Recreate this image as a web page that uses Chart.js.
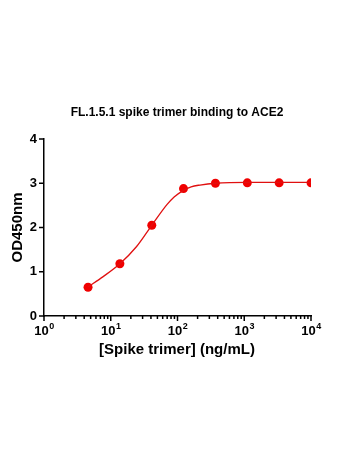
<!DOCTYPE html>
<html>
<head>
<meta charset="utf-8">
<script src="https://cdn.jsdelivr.net/npm/chart.js@4"></script>
<style>
  html, body { margin: 0; padding: 0; background: #fff; }
  #wrap { width: 350px; height: 467px; position: relative; }
</style>
</head>
<body>
<div id="wrap"><canvas id="bindingChart"></canvas></div>
<script>
"use strict";

// measured points (3-fold dilution of spike trimer)
const concentrations = [4.57, 13.7, 41.2, 123, 370, 1111, 3333, 10000];
const odValues = [0.65, 1.18, 2.05, 2.88, 3.0, 3.01, 3.01, 3.01];

// fitted curve
const fitX = [4.57, 7.7, 13.7, 24.4, 41.2, 68.9, 89, 123, 160, 217, 370, 1111, 3333, 10000];
const fitY = [0.66, 0.89, 1.18, 1.57, 2.05, 2.51, 2.69, 2.84, 2.92, 2.96, 3.0, 3.02, 3.02, 3.02];

const xTickPowers = [0, 1, 2, 3, 4];
const yTicks = [0, 1, 2, 3, 4];

const chartTitle = "FL.1.5.1 spike trimer binding to ACE2";
const xTitle = "[Spike trimer] (ng/mL)";
const yTitle = "OD450nm";

const red = "#f00000";
const font = "'Liberation Sans', Arial, sans-serif";

// tick marks, labels and titles drawn by hand so the log labels get superscripts
const axisDecor = {
  id: "axisDecor",
  afterDraw(chart) {
    const ctx = chart.ctx;
    const x = chart.scales.x;
    const y = chart.scales.y;
    const area = chart.chartArea;
    ctx.save();
    ctx.strokeStyle = "#000";
    ctx.fillStyle = "#000";
    ctx.lineWidth = 1.5;

    // x ticks, major and minor
    xTickPowers.forEach((p, i) => {
      const px = x.getPixelForValue(Math.pow(10, p));
      ctx.beginPath();
      ctx.moveTo(px, area.bottom);
      ctx.lineTo(px, area.bottom + 5);
      ctx.stroke();
      if (i < xTickPowers.length - 1) {
        for (let m = 2; m <= 9; m++) {
          const mx = x.getPixelForValue(m * Math.pow(10, p));
          ctx.beginPath();
          ctx.moveTo(mx, area.bottom);
          ctx.lineTo(mx, area.bottom + 3);
          ctx.stroke();
        }
      }
      ctx.font = "bold 13px " + font;
      const base = "10";
      const sup = String(p);
      const w1 = ctx.measureText(base).width;
      ctx.font = "bold 9px " + font;
      const w2 = ctx.measureText(sup).width;
      const left = px - (w1 + w2) / 2;
      ctx.textAlign = "left";
      ctx.textBaseline = "alphabetic";
      ctx.font = "bold 13px " + font;
      ctx.fillText(base, left, area.bottom + 19);
      ctx.font = "bold 9px " + font;
      ctx.fillText(sup, left + w1 + 0.5, area.bottom + 13);
    });

    // y ticks
    ctx.font = "bold 13px " + font;
    ctx.textAlign = "right";
    ctx.textBaseline = "middle";
    yTicks.forEach((v) => {
      const py = y.getPixelForValue(v);
      ctx.beginPath();
      ctx.moveTo(area.left, py);
      ctx.lineTo(area.left - 5, py);
      ctx.stroke();
      ctx.fillText(String(v), area.left - 7, py);
    });

    // titles
    ctx.textAlign = "center";
    ctx.textBaseline = "middle";
    ctx.font = "bold 12px " + font;
    ctx.fillText(chartTitle, 177, 113);
    ctx.font = "bold 15px " + font;
    ctx.fillText(xTitle, 177, 350);
    ctx.translate(18, (area.top + area.bottom) / 2);
    ctx.rotate(-Math.PI / 2);
    ctx.fillText(yTitle, 0, 0);
    ctx.restore();
  }
};

new Chart(document.getElementById("bindingChart"), {
  type: "scatter",
  data: {
    datasets: [
      {
        label: "fit",
        data: fitX.map((v, i) => ({ x: v, y: fitY[i] })),
        showLine: true,
        borderColor: "#e01010",
        borderWidth: 1.3,
        pointRadius: 0,
        cubicInterpolationMode: "monotone",
        fill: false
      },
      {
        label: "OD450",
        data: concentrations.map((v, i) => ({ x: v, y: odValues[i] })),
        backgroundColor: red,
        borderColor: red,
        pointRadius: 4.5,
        pointBorderWidth: 0
      }
    ]
  },
  options: {
    responsive: true,
    maintainAspectRatio: false,
    animation: false,
    layout: { padding: { left: 44, right: 39, top: 139, bottom: 151 } },
    plugins: {
      legend: { display: false },
      tooltip: { enabled: false }
    },
    scales: {
      x: {
        type: "logarithmic",
        min: 1,
        max: 10000,
        grid: { display: false },
        border: { display: true, color: "#000", width: 1.5 },
        ticks: { display: false },
        afterFit: (scale) => { scale.height = 0; }
      },
      y: {
        min: 0,
        max: 4,
        grid: { display: false },
        border: { display: true, color: "#000", width: 1.5 },
        ticks: { display: false },
        afterFit: (scale) => { scale.width = 0; }
      }
    }
  },
  plugins: [axisDecor]
});
</script>
</body>
</html>
